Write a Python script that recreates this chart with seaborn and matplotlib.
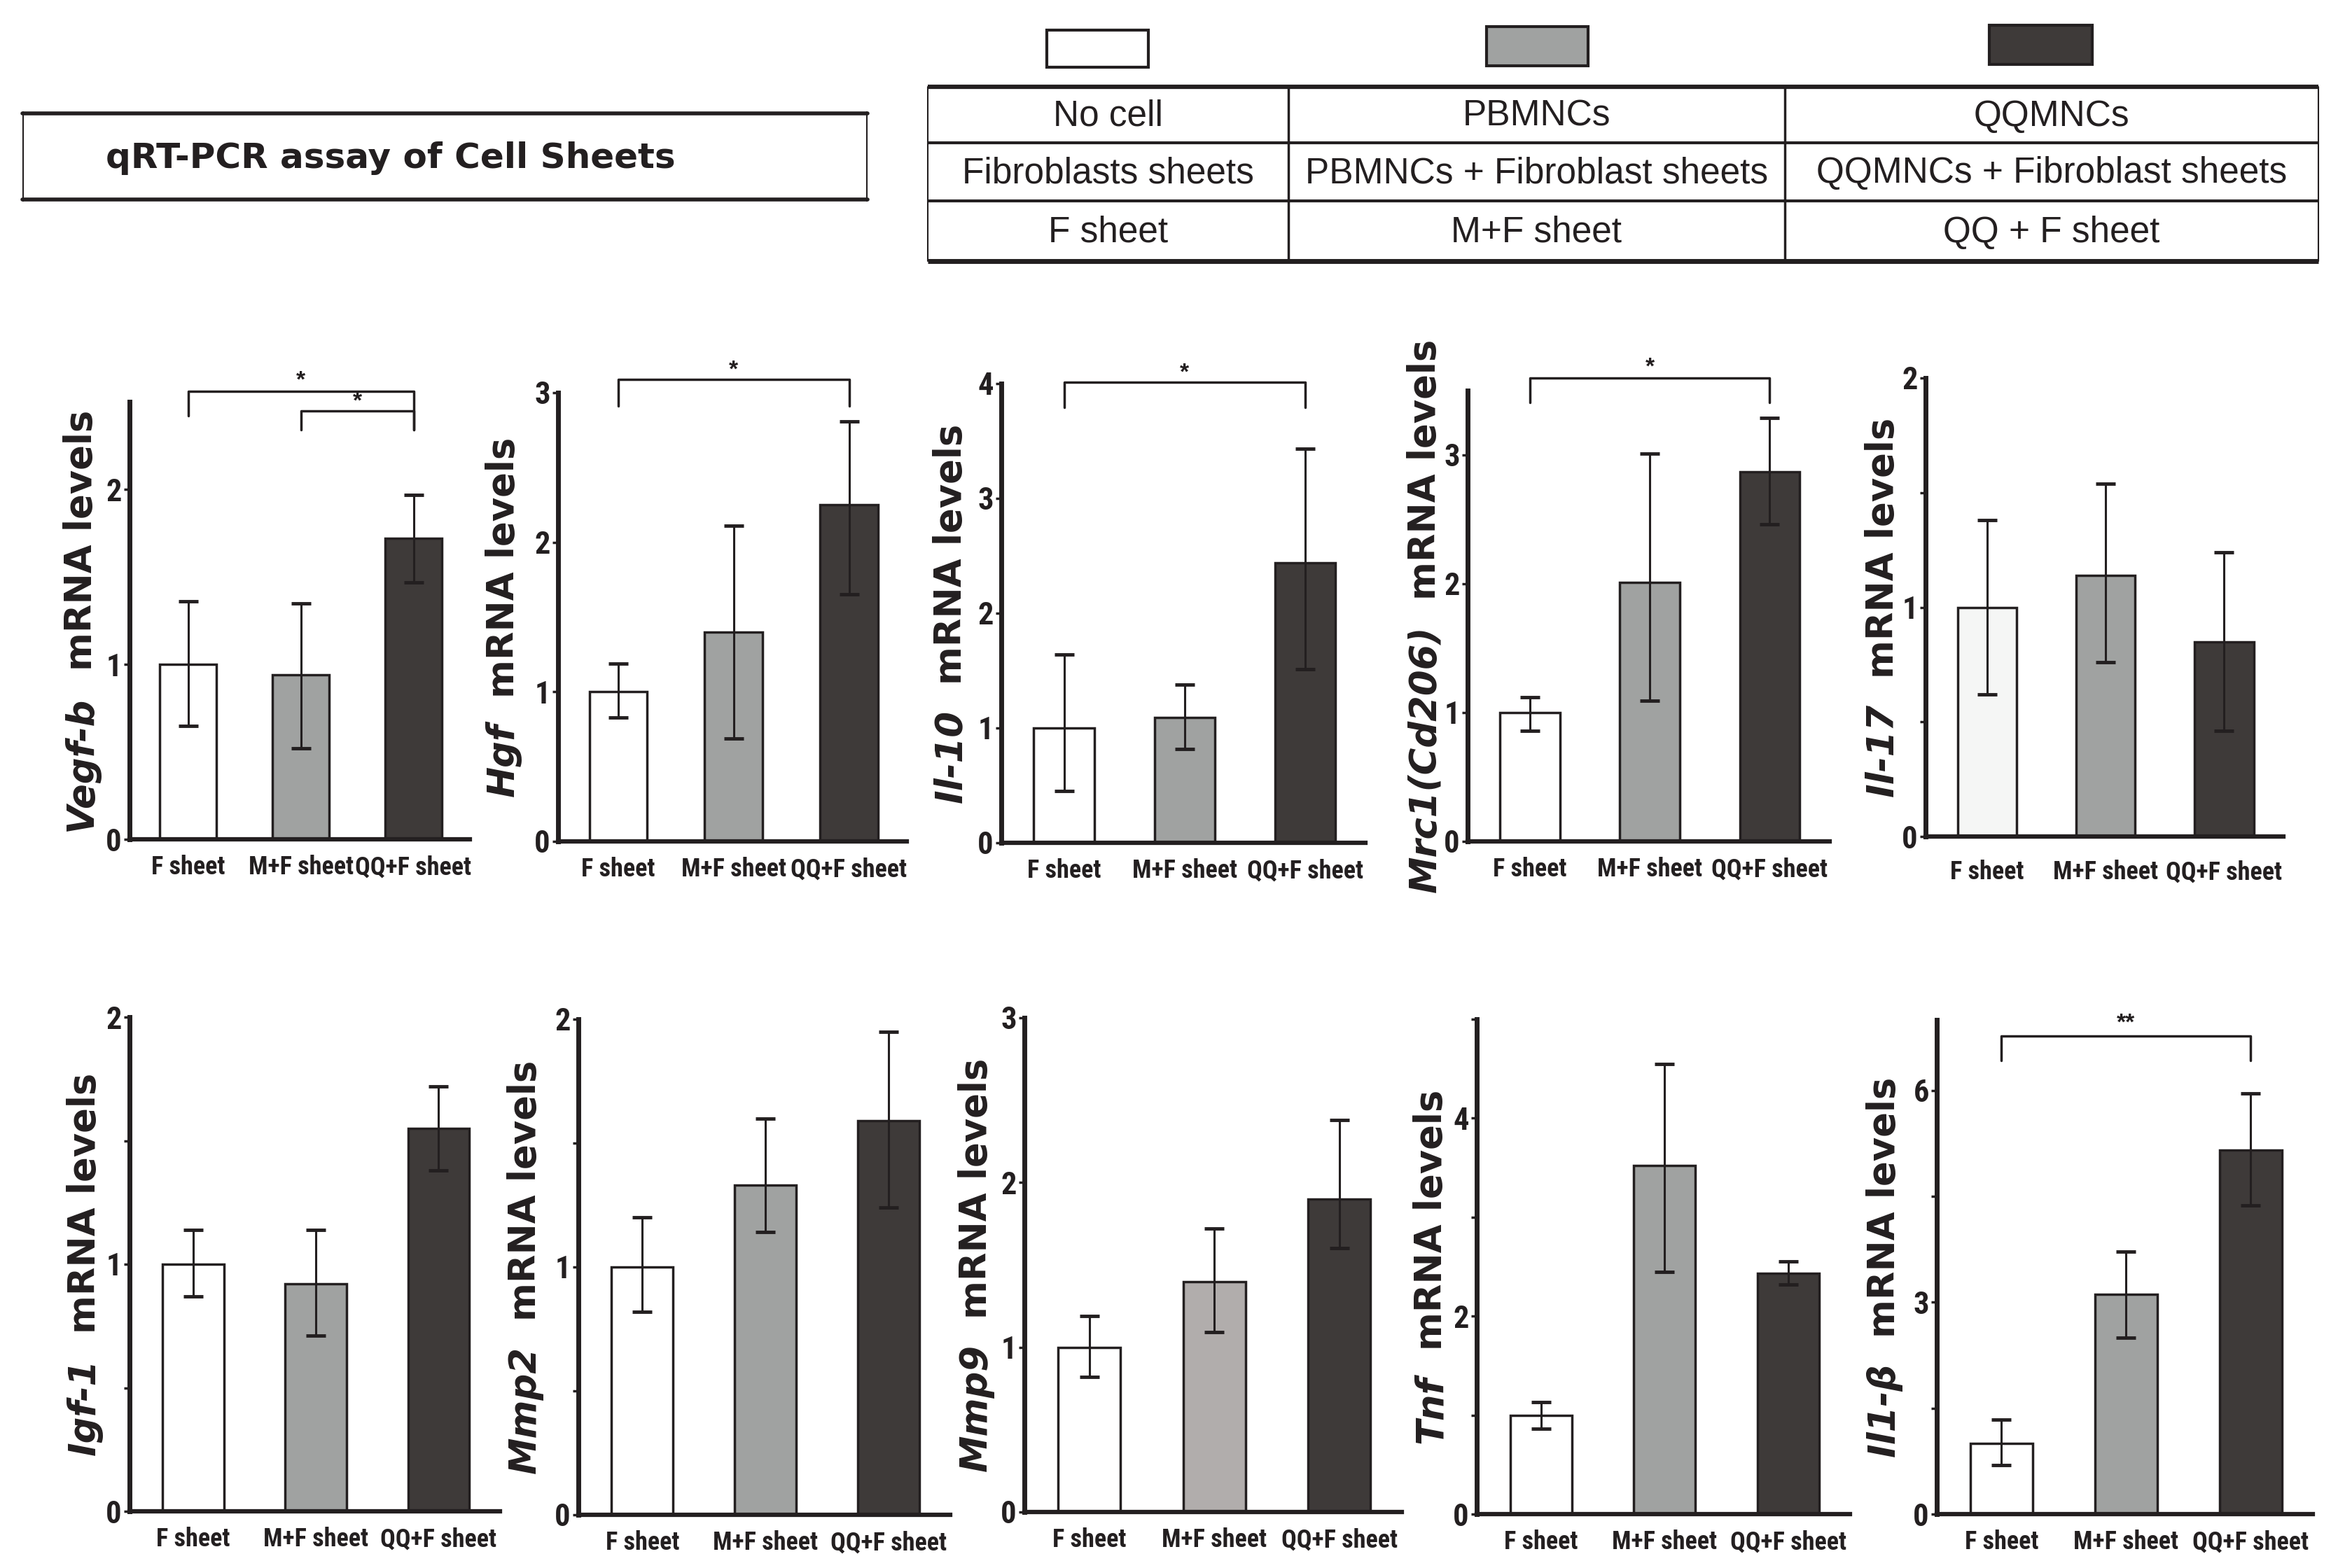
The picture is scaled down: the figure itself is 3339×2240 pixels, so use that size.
import matplotlib
matplotlib.use('Agg')
import matplotlib.pyplot as plt
import seaborn as sns
import pandas as pd
import numpy as np
from matplotlib.patches import Rectangle

# groups and colours
groups = ['F sheet', 'M+F sheet', 'QQ+F sheet']
genes = ['Vegf-b', 'Hgf', 'Il-10', 'Mrc1(Cd206)', 'Il-17',
         'Igf-1', 'Mmp2', 'Mmp9', 'Tnf', 'Il1-β']

# bar heights and error-bar ends (low / high)
vegfb = [1.00, 0.94, 1.72]; vegfb_lo = [0.65, 0.52, 1.47]; vegfb_hi = [1.36, 1.35, 1.97]
hgf = [1.00, 1.40, 2.25]; hgf_lo = [0.83, 0.69, 1.65]; hgf_hi = [1.19, 2.11, 2.81]
il10 = [1.00, 1.09, 2.44]; il10_lo = [0.45, 0.82, 1.51]; il10_hi = [1.64, 1.38, 3.43]
mrc1 = [1.00, 2.01, 2.87]; mrc1_lo = [0.86, 1.09, 2.46]; mrc1_hi = [1.12, 3.01, 3.29]
il17 = [1.00, 1.14, 0.85]; il17_lo = [0.62, 0.76, 0.46]; il17_hi = [1.38, 1.54, 1.24]
igf1 = [1.00, 0.92, 1.55]; igf1_lo = [0.87, 0.71, 1.38]; igf1_hi = [1.14, 1.14, 1.72]
mmp2 = [1.00, 1.33, 1.59]; mmp2_lo = [0.82, 1.14, 1.24]; mmp2_hi = [1.20, 1.60, 1.95]
mmp9 = [1.00, 1.40, 1.90]; mmp9_lo = [0.82, 1.09, 1.60]; mmp9_hi = [1.19, 1.72, 2.38]
tnf = [1.00, 3.52, 2.43]; tnf_lo = [0.86, 2.45, 2.32]; tnf_hi = [1.13, 4.55, 2.55]
il1b = [1.00, 3.11, 5.16]; il1b_lo = [0.69, 2.50, 4.37]; il1b_hi = [1.34, 3.72, 5.96]

# y ticks (value, shown label)
vegfb_ticks = [0, 1, 2]; vegfb_lab = ['0', '1', '2']
hgf_ticks = [0, 1, 2, 3]; hgf_lab = ['0', '1', '2', '3']
il10_ticks = [0, 1, 2, 3, 4]; il10_lab = ['0', '1', '2', '3', '4']
mrc1_ticks = [0, 1, 2, 3]; mrc1_lab = ['0', '1', '2', '3']
il17_ticks = [0, 0.5, 1, 1.5, 2]; il17_lab = ['0', '', '1', '', '2']
igf1_ticks = [0, 0.5, 1, 1.5, 2]; igf1_lab = ['0', '', '1', '', '2']
mmp2_ticks = [0, 0.5, 1, 1.5, 2]; mmp2_lab = ['0', '', '1', '', '2']
mmp9_ticks = [0, 1, 2, 3]; mmp9_lab = ['0', '1', '2', '3']
tnf_ticks = [0, 1, 2, 3, 4, 5]; tnf_lab = ['0', '', '2', '', '4', '']
il1b_ticks = [0, 1.5, 3, 4.5, 6]; il1b_lab = ['0', '', '3', '', '6']

table_rows = [['No cell', 'PBMNCs', 'QQMNCs'],
              ['Fibroblasts sheets', 'PBMNCs + Fibroblast sheets', 'QQMNCs + Fibroblast sheets'],
              ['F sheet', 'M+F sheet', 'QQ + F sheet']]

white, gray, dark, ink = '#ffffff', '#a0a2a1', '#3e3a39', '#231f20'

panels = [
    (vegfb, vegfb_lo, vegfb_hi, vegfb_ticks, vegfb_lab, 2.5, [white, gray, dark]),
    (hgf, hgf_lo, hgf_hi, hgf_ticks, hgf_lab, 3.0, [white, gray, dark]),
    (il10, il10_lo, il10_hi, il10_ticks, il10_lab, 4.0, [white, gray, dark]),
    (mrc1, mrc1_lo, mrc1_hi, mrc1_ticks, mrc1_lab, 3.5, [white, gray, dark]),
    (il17, il17_lo, il17_hi, il17_ticks, il17_lab, 2.0, ['#f5f6f5', gray, dark]),
    (igf1, igf1_lo, igf1_hi, igf1_ticks, igf1_lab, 2.0, [white, gray, dark]),
    (mmp2, mmp2_lo, mmp2_hi, mmp2_ticks, mmp2_lab, 2.0, [white, gray, dark]),
    (mmp9, mmp9_lo, mmp9_hi, mmp9_ticks, mmp9_lab, 3.0, [white, '#b1adac', dark]),
    (tnf, tnf_lo, tnf_hi, tnf_ticks, tnf_lab, 5.0, [white, gray, dark]),
    (il1b, il1b_lo, il1b_hi, il1b_ticks, il1b_lab, 7.0, [white, gray, dark]),
]

# significance brackets: panel, x1, x2, y, leg ends, text, text pos
brackets = [
    (0, 0, 2, 2.56, (2.42, 2.34), '*', (1.0, 2.62)),
    (0, 1, 2, 2.45, (2.34, 2.34), '*', (1.5, 2.50)),
    (1, 0, 2, 3.09, (2.91, 2.91), '*', (1.0, 3.15)),
    (2, 0, 2, 4.01, (3.79, 3.79), '*', (1.0, 4.09)),
    (3, 0, 2, 3.60, (3.41, 3.41), '*', (1.0, 3.68)),
    (9, 0, 2, 6.77, (6.42, 6.42), '**', (1.0, 6.95)),
]

W, H = 3339, 2240
# axes boxes in pixels: left, right, top, bottom
boxes = [(185, 671, 574, 1199), (797, 1295, 561, 1202), (1430, 1950, 548, 1204),
         (2096, 2613, 558, 1202), (2750, 3261, 540, 1195),
         (185, 714, 1453, 2159), (826, 1357, 1456, 2164), (1463, 2002, 1454, 2160),
         (2109, 2642, 1456, 2163), (2766, 3303, 1457, 2163)]
label_off = [69, 78, 72, 61, 61, 64, 76, 69, 65, 75]
xpad = [16, 16, 16, 16, 24, 16, 16, 16, 16, 16]

sns.set_style('ticks')
plt.rcParams['font.family'] = ['Liberation Sans', 'DejaVu Sans']
narrow = ['Roboto Condensed', 'Liberation Sans Narrow', 'Liberation Sans']

fig = plt.figure(figsize=(W / 100, H / 100), dpi=100)

# header: title box, legend swatches, table
top = fig.add_axes([0, 0, 1, 1])
top.set_xlim(0, W)
top.set_ylim(H, 0)
top.axis('off')
top.patch.set_alpha(0)

top.plot([32, 1239], [162, 162], color=ink, lw=4)
top.plot([32, 1239], [285, 285], color=ink, lw=4)
top.plot([33, 33], [160, 287], color=ink, lw=1.5)
top.plot([1238, 1238], [160, 287], color=ink, lw=1.5)
top.text(151, 226, 'qRT-PCR assay of Cell Sheets', fontsize=36, fontweight='bold',
         family='DejaVu Sans', ha='left', va='center', color=ink)

for (x, y, w, h), c in zip([(1495, 43, 145, 53), (2123, 38, 145, 56), (2841, 36, 147, 56)],
                           [white, gray, dark]):
    top.add_patch(Rectangle((x, y), w, h, facecolor=c, edgecolor=ink, lw=3))

tx = [1325, 1840, 2549, 3311]
ty = [124, 204, 287, 373]
for y, lw in zip(ty, [4.5, 3, 3, 5]):
    top.plot([tx[0], tx[-1]], [y, y], color=ink, lw=lw, solid_capstyle='butt')
for x, lw in zip(tx, [1.5, 2.5, 2.5, 1.5]):
    top.plot([x, x], [ty[0], ty[-1]], color=ink, lw=lw)
for i, row in enumerate(table_rows):
    for j, s in enumerate(row):
        top.text((tx[j] + tx[j + 1]) / 2, (ty[i] + ty[i + 1]) / 2 + 2, s, fontsize=37,
                 ha='center', va='center', color=ink)

axes = []
for k, (m, lo, hi, ticks, labs, ytop, cols) in enumerate(panels):
    l, r, t, b = boxes[k]
    ax = fig.add_axes([l / W, 1 - b / H, (r - l) / W, (b - t) / H])
    df = pd.DataFrame({'group': groups, 'value': m})
    sns.barplot(data=df, x='group', y='value', hue='group', palette=cols, saturation=1,
                width=0.5, edgecolor=ink, linewidth=2.5, errorbar=None, legend=False, ax=ax)
    m = np.array(m); lo = np.array(lo); hi = np.array(hi)
    ax.errorbar(np.arange(3), m, yerr=[m - lo, hi - m], fmt='none', ecolor=ink,
                elinewidth=2.2, capsize=10, capthick=3.5, zorder=5)
    ax.set_xlim(-0.52, 2.5)
    ax.set_ylim(0, ytop)
    ax.set_yticks(ticks)
    ax.set_yticklabels(labs, fontweight='bold', fontsize=32, family=narrow, color=ink)
    ax.set_xticks([0, 1, 2])
    ax.set_xticklabels(groups, fontweight='bold', fontsize=26, family=narrow, color=ink)
    ax.tick_params(axis='x', length=0, pad=xpad[k])
    ax.tick_params(axis='y', length=6, width=2.5, pad=2, color=ink)
    ax.set_xlabel('')
    ax.set_ylabel('')
    sns.despine(ax=ax)
    ax.spines['left'].set_linewidth(5)
    ax.spines['bottom'].set_linewidth(4.5)
    ax.spines['left'].set_color(ink)
    ax.spines['bottom'].set_color(ink)
    ax.patch.set_alpha(0)
    axes.append(ax)

for k, x1, x2, y, (l1, l2), s, (sx, sy) in brackets:
    ax = axes[k]
    ax.plot([x1, x1, x2, x2], [l1, y, y, l2], color=ink, lw=2.5, clip_on=False)
    ax.text(sx, sy, s, ha='center', va='center', fontsize=24, fontweight='bold',
            color=ink, clip_on=False)

# y labels: italic gene name followed by "mRNA levels", centred on the axis
fig.canvas.draw()
rend = fig.canvas.get_renderer()
for k, gene in enumerate(genes):
    l, r, t, b = boxes[k]
    cx = (l - label_off[k]) / W
    cy = H - (t + b) / 2
    kw = dict(rotation=90, rotation_mode='anchor', ha='left', va='center', fontsize=38,
              fontweight='bold', color=ink, family='DejaVu Sans')
    t1 = fig.text(cx, 0, gene, fontstyle='italic', **kw)
    t2 = fig.text(cx, 0, 'mRNA levels', **kw)
    h1 = t1.get_window_extent(rend).height
    h2 = t2.get_window_extent(rend).height
    gap = 36
    y0 = cy - (h1 + gap + h2) / 2
    t1.set_position((cx, y0 / H))
    t2.set_position((cx, (y0 + h1 + gap) / H))

fig.savefig('out.png', dpi=100, facecolor='white')
